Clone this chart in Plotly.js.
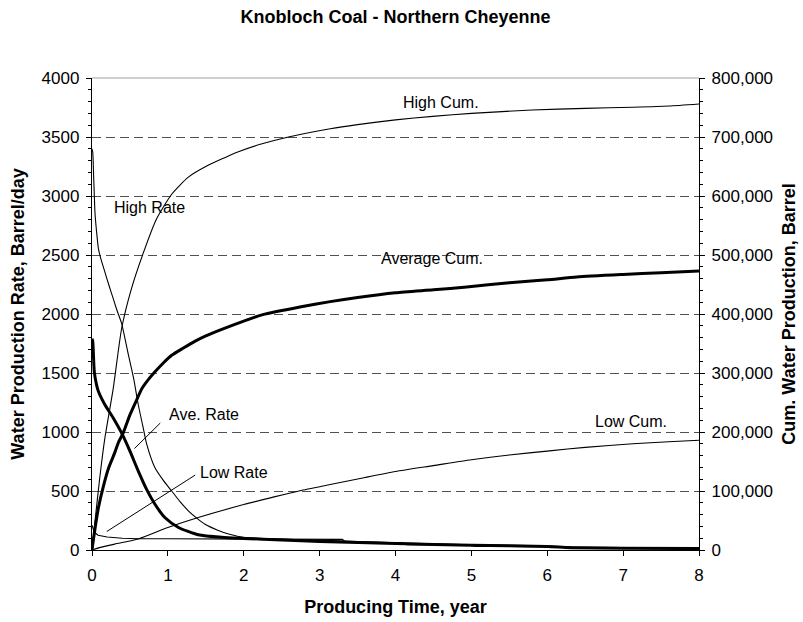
<!DOCTYPE html>
<html>
<head>
<meta charset="utf-8">
<script src="https://cdn.plot.ly/plotly-3.0.1.min.js"></script>
<style>html,body{margin:0;padding:0;background:#fff;}#chart{width:803px;height:622px;}</style>
</head>
<body>
<div id="chart"></div>
<script>
// ---- data ----
// Rates, Barrel/day (left axis)
const highRateX = [0, 0.01, 0.02, 0.04, 0.06, 0.085, 0.12, 0.17, 0.22, 0.28, 0.33, 0.39, 0.48, 0.55, 0.61, 0.67, 0.72, 0.83, 0.94, 1.05, 1.16, 1.27, 1.38, 1.49, 1.65, 1.8, 2.0, 2.5, 3.0, 3.5, 4.0, 5.0, 6.0, 6.3, 7.0, 8.0];
const highRateY = [3400, 3370, 3200, 2850, 2700, 2552, 2460, 2355, 2250, 2130, 2030, 1920, 1653, 1450, 1231, 1050, 900, 697, 590, 500, 410, 332, 270, 219, 170, 135, 107, 92, 82, 72, 62, 45, 35, 25, 20, 15];

const aveRateX = [0, 0.01, 0.03, 0.06, 0.085, 0.17, 0.28, 0.39, 0.5, 0.61, 0.72, 0.83, 0.96, 1.14, 1.4, 1.71, 2.0, 2.5, 3.0, 4.0, 5.0, 6.0, 6.3, 7.0, 8.0];
const aveRateY = [1790, 1765, 1512, 1400, 1343, 1231, 1119, 992, 838, 669, 514, 388, 275, 191, 129, 107, 98, 85, 72, 55, 40, 30, 20, 15, 12];

const lowRateX = [0, 0.03, 0.08, 0.2, 0.4, 0.61, 1.0, 2.0, 3.3, 3.35, 4.1, 4.15, 5.0, 5.05, 6.3, 6.35, 8.0];
const lowRateY = [210, 150, 125, 110, 100, 95, 95, 94, 90, 65, 60, 45, 40, 30, 28, 15, 12];

// Cumulative water production, Barrel (right axis)
const highCumX = [0, 0.02, 0.04, 0.1, 0.17, 0.28, 0.39, 0.52, 0.68, 0.85, 1.05, 1.27, 1.53, 1.75, 1.93, 2.23, 2.59, 3.14, 3.5, 4.0, 4.49, 5.0, 5.8, 6.5, 7.13, 7.6, 8.0];
const highCumY = [0, 25000, 49500, 120000, 190000, 274000, 375000, 443000, 504800, 561000, 603000, 632000, 652000, 665000, 675000, 688000, 700000, 714000, 721000, 729000, 735000, 740000, 745800, 748500, 750500, 752500, 756000];

const aveCumX = [0, 0.03, 0.085, 0.15, 0.22, 0.3, 0.35, 0.41, 0.5, 0.58, 0.66, 0.75, 0.83, 0.94, 1.05, 1.2, 1.36, 1.5, 1.71, 2.0, 2.25, 2.74, 3.14, 3.5, 4.0, 4.5, 4.94, 5.5, 6.0, 6.39, 7.0, 7.5, 8.0];
const aveCumY = [0, 28000, 72000, 108000, 139400, 165000, 183000, 198000, 229000, 252000, 274000, 290000, 302000, 317000, 330000, 342000, 354000, 363000, 374000, 388000, 399000, 412000, 421000, 428000, 436000, 441000, 445800, 453000, 458000, 462700, 467000, 470000, 472900];

const lowCumX = [0, 0.1, 0.3, 0.61, 1.0, 1.4, 2.0, 2.4, 2.74, 3.14, 3.6, 4.0, 4.5, 5.0, 5.5, 6.03, 6.5, 7.13, 7.6, 8.0];
const lowCumY = [0, 4000, 10000, 18600, 38000, 55000, 77000, 90000, 100500, 111000, 123000, 133000, 143000, 153000, 161000, 168000, 174000, 180000, 183500, 186000];

// Axis tick values / labels
const xTicks = [0, 1, 2, 3, 4, 5, 6, 7, 8];
const leftTicks = [0, 500, 1000, 1500, 2000, 2500, 3000, 3500, 4000];
const rightTicks = [0, 100000, 200000, 300000, 400000, 500000, 600000, 700000, 800000];

// Curve labels
const labelTexts = ["High Cum.", "Average Cum.", "Low Cum.", "High Rate", "Ave. Rate", "Low Rate"];

// ---- chart ----
const FONT = "Liberation Sans, Arial, sans-serif";
const thin = {color: "#000", width: 1.1, shape: "spline", smoothing: 0.6};
const thinLin = {color: "#000", width: 1.1};
const thick = {color: "#000", width: 3, shape: "spline", smoothing: 0.6};

const traces = [
  {x: highRateX, y: highRateY, mode: "lines", line: thin, yaxis: "y", name: "High Rate"},
  {x: lowRateX, y: lowRateY, mode: "lines", line: thinLin, yaxis: "y", name: "Low Rate"},
  {x: highCumX, y: highCumY, mode: "lines", line: thin, yaxis: "y2", name: "High Cum."},
  {x: lowCumX, y: lowCumY, mode: "lines", line: thin, yaxis: "y2", name: "Low Cum."},
  {x: aveRateX, y: aveRateY, mode: "lines", line: thick, yaxis: "y", name: "Ave. Rate"},
  {x: aveCumX, y: aveCumY, mode: "lines", line: thick, yaxis: "y2", name: "Average Cum."}
];

const annFont = {family: FONT, size: 16, color: "#000"};
const annotations = [
  {text: labelTexts[0], x: 4.6, y: 3790, xref: "x", yref: "y", showarrow: false, font: annFont},
  {text: labelTexts[1], x: 4.48, y: 2470, xref: "x", yref: "y", showarrow: false, font: annFont},
  {text: labelTexts[2], x: 7.11, y: 1085, xref: "x", yref: "y", showarrow: false, font: annFont},
  {text: labelTexts[3], x: 0.27, y: 2900, xref: "x", yref: "y", xanchor: "left", showarrow: false, font: annFont},
  {text: labelTexts[4], x: 1.47, y: 1152, xref: "x", yref: "y", showarrow: false, font: annFont},
  {text: labelTexts[5], x: 1.4, y: 655, xref: "x", yref: "y", xanchor: "left", showarrow: false, font: annFont}
];

const shapes = [
  {type: "line", xref: "paper", yref: "paper", x0: 0, x1: 1, y0: 1, y1: 1, line: {color: "#a0a0a0", width: 1.2}},
  {type: "line", xref: "x", yref: "y", x0: 0.9, y0: 1076, x1: 0.56, y1: 860, line: {color: "#000", width: 1}},
  {type: "line", xref: "x", yref: "y", x0: 1.36, y0: 635, x1: 0.195, y1: 157, line: {color: "#000", width: 1}}
];

const layout = {
  width: 803, height: 622,
  margin: {l: 92, r: 104, t: 78, b: 72, pad: 0},
  paper_bgcolor: "#fff", plot_bgcolor: "#fff",
  showlegend: false,
  font: {family: FONT, size: 17, color: "#000"},
  title: {text: "<b>Knobloch Coal - Northern Cheyenne</b>", font: {family: FONT, size: 18, color: "#000"},
          x: 0.5, xref: "paper", y: 1 - 17/622, yref: "container", yanchor: "middle"},
  xaxis: {
    range: [0, 8], tickvals: xTicks, ticktext: xTicks.map(String),
    showline: true, linecolor: "#000", linewidth: 1.2, mirror: false,
    ticks: "outside", ticklen: 5, tickcolor: "#000", ticklabelstandoff: 4,
    showgrid: false, zeroline: false, automargin: false,
    tickfont: {family: FONT, size: 17, color: "#000"},
    title: {text: "<b>Producing Time, year</b>", font: {family: FONT, size: 18, color: "#000"}, standoff: 16}
  },
  yaxis: {
    range: [0, 4000], tickvals: leftTicks, ticktext: leftTicks.map(String),
    showline: true, linecolor: "#000", linewidth: 1.2,
    ticks: "outside", ticklen: 5, tickcolor: "#000", ticklabelstandoff: 3,
    minor: {dtick: 100, ticks: "outside", ticklen: 3, tickcolor: "#000", showgrid: false},
    showgrid: true, gridcolor: "#505050", gridwidth: 1, griddash: "9px,5px",
    zeroline: false, automargin: false,
    tickfont: {family: FONT, size: 17, color: "#000"},
    title: {text: "<b>Water Production Rate, Barrel/day</b>", font: {family: FONT, size: 18, color: "#000"}, standoff: 12}
  },
  yaxis2: {
    range: [0, 800000], overlaying: "y", side: "right", anchor: "x",
    tickvals: rightTicks, ticktext: rightTicks.map(v => v.toLocaleString("en-US")),
    showline: true, linecolor: "#000", linewidth: 1.2,
    ticks: "outside", ticklen: 5, tickcolor: "#000", ticklabelstandoff: 3,
    minor: {dtick: 20000, ticks: "outside", ticklen: 3, tickcolor: "#000", showgrid: false},
    showgrid: false, zeroline: false, automargin: false,
    tickfont: {family: FONT, size: 17, color: "#000"},
    title: {text: "<b>Cum. Water Production, Barrel</b>", font: {family: FONT, size: 18, color: "#000"}, standoff: 10}
  },
  annotations: annotations,
  shapes: shapes
};

Plotly.newPlot("chart", traces, layout, {staticPlot: true, displayModeBar: false});
</script>
</body>
</html>
